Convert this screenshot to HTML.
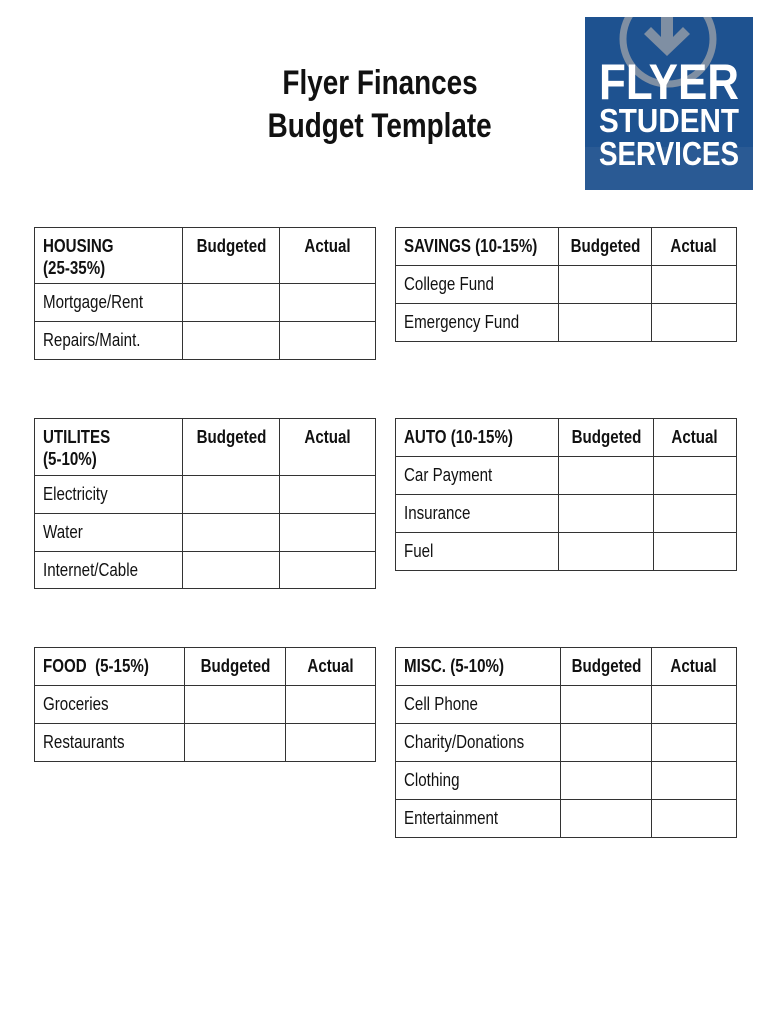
<!DOCTYPE html>
<html><head><meta charset="utf-8"><style>
body{margin:0;width:770px;height:1024px;background:#fff;position:relative;font-family:"Liberation Sans",Arial,sans-serif;overflow:hidden}
table{position:absolute;border-collapse:collapse;table-layout:fixed}
td{border:1.5px solid #333;padding:0 0 0 8px;vertical-align:top;font-size:18px;color:#111;height:37px;box-sizing:border-box;padding-top:7px;line-height:22px;white-space:nowrap}
td span{display:inline-block;transform:scaleX(0.84);transform-origin:left top}
td.h{font-weight:bold;text-align:center;padding-left:0}
td.h span{transform-origin:center top}
td.t{font-weight:bold}
.title{position:absolute;left:180px;width:400px;text-align:center;font-weight:bold;font-size:34px;color:#111}
.title span{display:inline-block;transform:scaleX(0.82)}
</style></head><body>
<div class="title" style="top:64px"><span>Flyer Finances</span></div>
<div class="title" style="top:107px"><span>Budget Template</span></div>

<svg style="position:absolute;left:585px;top:17px" width="168" height="173">
<rect width="168" height="173" fill="#1e5290"/>
<rect y="130" width="168" height="43" fill="#2a5a94"/>
<circle cx="83" cy="22" r="45" fill="none" stroke="#7f8fa3" stroke-width="7"/>
<path d="M76 0 h12 v20 l10 -10 l7 7 l-23 22 l-23 -22 l7 -7 l10 10z" fill="#7f8fa3"/>
<text x="84" y="82" text-anchor="middle" font-family="Liberation Sans" font-weight="bold" font-size="50" fill="#fff" textLength="140" lengthAdjust="spacingAndGlyphs">FLYER</text>
<text x="84" y="115" text-anchor="middle" font-family="Liberation Sans" font-weight="bold" font-size="33" fill="#fff" textLength="140" lengthAdjust="spacingAndGlyphs">STUDENT</text>
<text x="84" y="148" text-anchor="middle" font-family="Liberation Sans" font-weight="bold" font-size="33" fill="#fff" textLength="140" lengthAdjust="spacingAndGlyphs">SERVICES</text>
</svg>

<table style="left:34px;top:227px;width:341px">
<colgroup><col style="width:148px"><col style="width:97px"><col style="width:96px"></colgroup>
<tr><td class="t" style="height:56px"><span>HOUSING<br>(25-35%)</span></td><td class="h"><span>Budgeted</span></td><td class="h"><span>Actual</span></td></tr>
<tr><td style="height:38px"><span>Mortgage/Rent</span></td><td></td><td></td></tr>
<tr><td style="height:38px"><span>Repairs/Maint.</span></td><td></td><td></td></tr>
</table>

<table style="left:395px;top:227px;width:341px">
<colgroup><col style="width:163px"><col style="width:93px"><col style="width:85px"></colgroup>
<tr><td class="t" style="height:38px"><span>SAVINGS (10-15%)</span></td><td class="h"><span>Budgeted</span></td><td class="h"><span>Actual</span></td></tr>
<tr><td style="height:38px"><span>College Fund</span></td><td></td><td></td></tr>
<tr><td style="height:38px"><span>Emergency Fund</span></td><td></td><td></td></tr>
</table>

<table style="left:34px;top:418px;width:341px">
<colgroup><col style="width:148px"><col style="width:97px"><col style="width:96px"></colgroup>
<tr><td class="t" style="height:57px"><span>UTILITES<br>(5-10%)</span></td><td class="h"><span>Budgeted</span></td><td class="h"><span>Actual</span></td></tr>
<tr><td style="height:38px"><span>Electricity</span></td><td></td><td></td></tr>
<tr><td style="height:38px"><span>Water</span></td><td></td><td></td></tr>
<tr><td style="height:37px"><span>Internet/Cable</span></td><td></td><td></td></tr>
</table>

<table style="left:395px;top:418px;width:341px">
<colgroup><col style="width:163px"><col style="width:95px"><col style="width:83px"></colgroup>
<tr><td class="t" style="height:38px"><span>AUTO (10-15%)</span></td><td class="h"><span>Budgeted</span></td><td class="h"><span>Actual</span></td></tr>
<tr><td style="height:38px"><span>Car Payment</span></td><td></td><td></td></tr>
<tr><td style="height:38px"><span>Insurance</span></td><td></td><td></td></tr>
<tr><td style="height:38px"><span>Fuel</span></td><td></td><td></td></tr>
</table>

<table style="left:34px;top:647px;width:341px">
<colgroup><col style="width:150px"><col style="width:101px"><col style="width:90px"></colgroup>
<tr><td class="t" style="height:38px"><span>FOOD&nbsp; (5-15%)</span></td><td class="h"><span>Budgeted</span></td><td class="h"><span>Actual</span></td></tr>
<tr><td style="height:38px"><span>Groceries</span></td><td></td><td></td></tr>
<tr><td style="height:38px"><span>Restaurants</span></td><td></td><td></td></tr>
</table>

<table style="left:395px;top:647px;width:341px">
<colgroup><col style="width:165px"><col style="width:91px"><col style="width:85px"></colgroup>
<tr><td class="t" style="height:38px"><span>MISC. (5-10%)</span></td><td class="h"><span>Budgeted</span></td><td class="h"><span>Actual</span></td></tr>
<tr><td style="height:38px"><span>Cell Phone</span></td><td></td><td></td></tr>
<tr><td style="height:38px"><span>Charity/Donations</span></td><td></td><td></td></tr>
<tr><td style="height:38px"><span>Clothing</span></td><td></td><td></td></tr>
<tr><td style="height:38px"><span>Entertainment</span></td><td></td><td></td></tr>
</table>
</body></html>
